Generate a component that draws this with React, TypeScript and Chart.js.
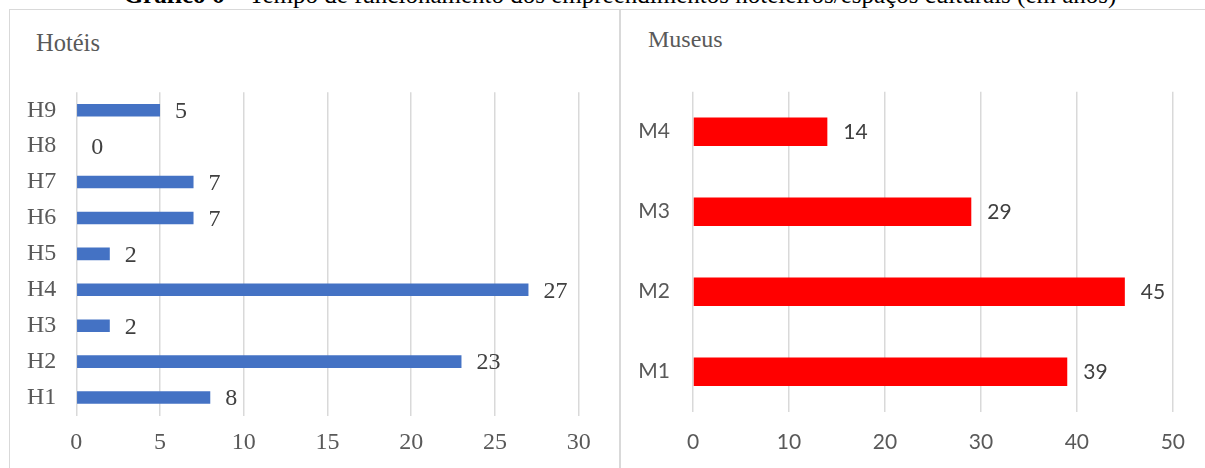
import React, { useEffect, useRef } from "react";
import { Chart, registerables } from "chart.js";

Chart.register(...registerables);

// ---------- data ----------
const titleBold = "Gráfico 6";
const titleRest = " – Tempo de funcionamento dos empreendimentos hoteleiros/espaços culturais (em anos)";

const hotelTitle = "Hotéis";
const hotelLabels = ["H1", "H2", "H3", "H4", "H5", "H6", "H7", "H8", "H9"];
const hotelValues = [8, 23, 2, 27, 2, 7, 7, 0, 5];
const hotelTicks = [0, 5, 10, 15, 20, 25, 30];

const museumTitle = "Museus";
const museumLabels = ["M1", "M2", "M3", "M4"];
const museumValues = [39, 45, 29, 14];
const museumTicks = [0, 10, 20, 30, 40, 50];

const SERIF = "'Liberation Serif', 'Times New Roman', serif";
const SANS = "Lato, 'Open Sans', sans-serif";

type Spec = {
  labels: string[];
  values: number[];
  ticks: number[];
  color: string;
  width: number;
  height: number;
  area: { left: number; right: number; top: number; bottom: number };
  family: string;
  size: number;
  xPad: number;
  yPad: number;
  barPct: number;
  valOffset: number;
  valDy: number;
};

function makeChart(canvas: HTMLCanvasElement, s: Spec) {
  const valueLabels = {
    id: "valueLabels",
    afterDatasetsDraw(chart: any) {
      const ctx = chart.ctx;
      const meta = chart.getDatasetMeta(0);
      ctx.save();
      ctx.font = `${s.size}px ${s.family}`;
      ctx.fillStyle = "#404040";
      ctx.textAlign = "left";
      ctx.textBaseline = "middle";
      meta.data.forEach((el: any, i: number) => {
        const v = chart.data.datasets[0].data[i];
        ctx.fillText(String(v), el.x + s.valOffset, el.y + s.valDy);
      });
      ctx.restore();
    },
  };
  return new Chart(canvas, {
    type: "bar",
    data: {
      labels: s.labels,
      datasets: [
        {
          data: s.values,
          backgroundColor: s.color,
          borderWidth: 0,
          barPercentage: s.barPct,
          categoryPercentage: 1,
        },
      ],
    },
    options: {
      indexAxis: "y",
      animation: false,
      responsive: false,
      maintainAspectRatio: false,
      layout: {
        padding: { top: s.area.top, right: s.width - s.area.right, left: 0, bottom: 0 },
      },
      plugins: {
        legend: { display: false },
        tooltip: { enabled: false },
        title: { display: false },
      },
      scales: {
        x: {
          type: "linear",
          position: "bottom",
          min: s.ticks[0],
          max: s.ticks[s.ticks.length - 1],
          afterBuildTicks(scale: any) {
            scale.ticks = s.ticks.map((v) => ({ value: v }));
          },
          ticks: {
            padding: s.xPad,
            color: "#595959",
            font: { family: s.family, size: s.size, lineHeight: 1 },
            maxRotation: 0,
          },
          grid: { color: "#d9d9d9", lineWidth: 1.5, drawTicks: false },
          border: { display: false },
          afterFit(scale: any) {
            scale.height = s.height - s.area.bottom;
          },
        },
        y: {
          type: "category",
          reverse: true,
          ticks: {
            padding: s.yPad,
            color: "#595959",
            font: { family: s.family, size: s.size, lineHeight: 1 },
          },
          grid: { display: false, drawTicks: false },
          border: { display: false },
          afterFit(scale: any) {
            scale.width = s.area.left;
          },
        },
      },
    } as any,
    plugins: [valueLabels],
  });
}

function BarPanel({ spec, style }: { spec: Spec; style: React.CSSProperties }) {
  const ref = useRef<HTMLCanvasElement | null>(null);
  useEffect(() => {
    if (!ref.current) return;
    const chart = makeChart(ref.current, spec);
    return () => chart.destroy();
  }, []);
  return (
    <canvas
      ref={ref}
      width={spec.width}
      height={spec.height}
      style={{ position: "absolute", width: spec.width, height: spec.height, ...style }}
    />
  );
}

const hotelSpec: Spec = {
  labels: hotelLabels,
  values: hotelValues,
  ticks: hotelTicks,
  color: "#4472C4",
  width: 609,
  height: 458,
  area: { left: 66.3, right: 568.7, top: 82.3, bottom: 405.5 },
  family: SERIF,
  size: 24,
  xPad: 15,
  yPad: 20,
  barPct: 0.35,
  valOffset: 15,
  valDy: 1.5,
};

const museumSpec: Spec = {
  labels: museumLabels,
  values: museumValues,
  ticks: museumTicks,
  color: "#FF0000",
  width: 584,
  height: 458,
  area: { left: 72, right: 553.8, top: 81.7, bottom: 401.7 },
  family: SANS,
  size: 21,
  xPad: 20,
  yPad: 23,
  barPct: 0.355,
  valOffset: 16,
  valDy: 1,
};

const panelTitleStyle = (left: number, baseline: number, size: number): React.CSSProperties => ({
  position: "absolute",
  left,
  top: baseline - 0.8375 * size,
  fontFamily: SERIF,
  fontSize: size,
  lineHeight: `${size}px`,
  color: "#595959",
  whiteSpace: "nowrap",
});

export default function App() {
  return (
    <div
      style={{
        position: "absolute",
        left: 0,
        top: 0,
        width: 1205,
        height: 468,
        overflow: "hidden",
        background: "#ffffff",
      }}
    >
      <div
        style={{
          position: "absolute",
          left: 0,
          width: 1240,
          top: -18.4,
          textAlign: "center",
          fontFamily: SERIF,
          fontSize: 25,
          lineHeight: "25px",
          color: "#000",
          whiteSpace: "nowrap",
        }}
      >
        <b>{titleBold}</b>
        {titleRest}
      </div>
      <div
        style={{
          position: "absolute",
          left: 9,
          top: 9,
          width: 609,
          height: 480,
          border: "1px solid #d9d9d9",
          background: "#fff",
        }}
      />
      <div
        style={{
          position: "absolute",
          left: 620,
          top: 9,
          width: 620,
          height: 480,
          border: "1px solid #d9d9d9",
          background: "#fff",
        }}
      />
      <div style={panelTitleStyle(36, 52, 24.5)}>{hotelTitle}</div>
      <div style={panelTitleStyle(648, 47.5, 24)}>{museumTitle}</div>
      <BarPanel spec={hotelSpec} style={{ left: 10, top: 10 }} />
      <BarPanel spec={museumSpec} style={{ left: 621, top: 10 }} />
    </div>
  );
}
